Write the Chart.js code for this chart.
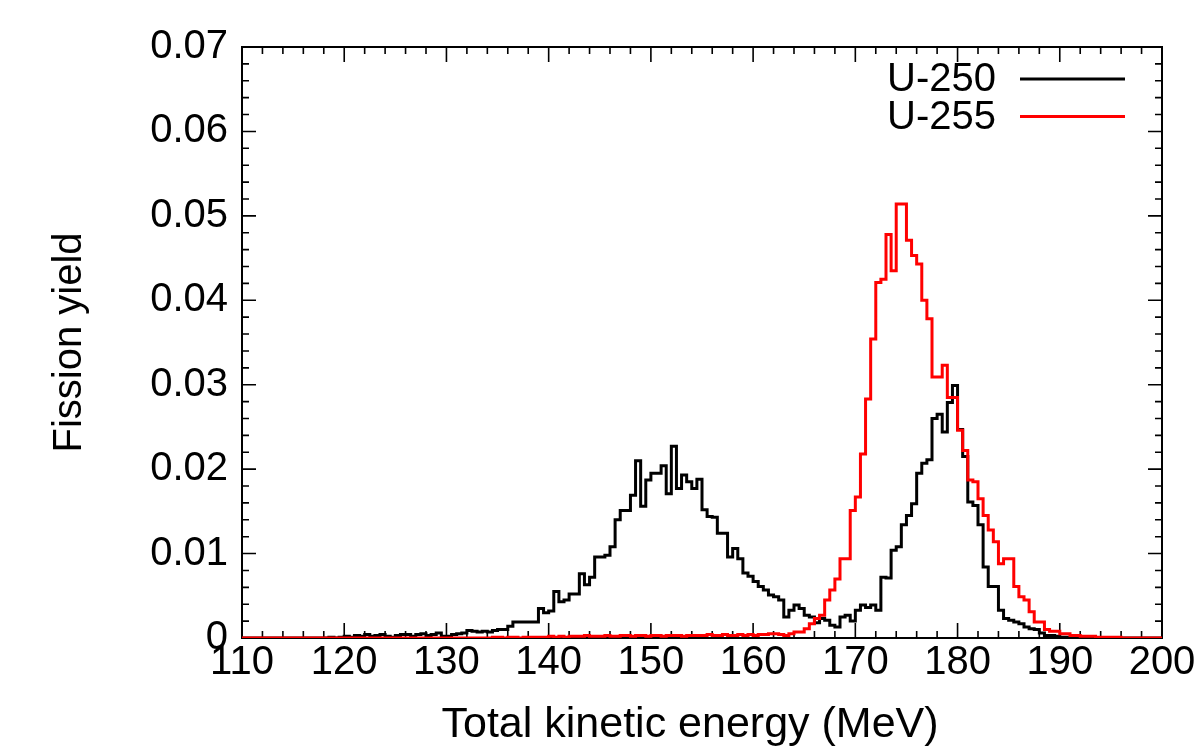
<!DOCTYPE html>
<html><head><meta charset="utf-8">
<script src="https://cdn.jsdelivr.net/npm/chart.js@4"></script>
<style>html,body{margin:0;padding:0;overflow:hidden;background:#fff}#wrap{position:absolute;left:0;top:0;width:1240px;height:751px}</style>
</head><body><div id="wrap"><canvas id="c" width="1240" height="751"></canvas></div>
<script>
// Histogram bins: left edges start at 110 MeV, 0.5 MeV wide
const binStart = 110;
const binWidth = 0.5;
const seriesNames = ['U-250', 'U-255'];
const seriesColors = ['#000000', '#ff0000'];
const xTickValues = [110, 120, 130, 140, 150, 160, 170, 180, 190, 200];
const yTickValues = [0, 0.01, 0.02, 0.03, 0.04, 0.05, 0.06, 0.07];

// U-250 fission yield per bin (rows of 10 bins = 5 MeV)
const u250 = [
  0,0,0,0,0,0,0,0,0,0,                                              // 110
  0,0,0,0,0,0,0,0.0001,0,0.0001,                                    // 115
  0.0002,0.0001,0.0003,0.0002,0.0004,0.0002,0.0003,0.0004,0.0002,0.0001, // 120
  0.0003,0.0004,0.0004,0.0002,0.0004,0.0005,0.0003,0.0004,0.0006,0.0002, // 125
  0.0002,0.0004,0.0005,0.0006,0.0009,0.0008,0.0007,0.0008,0.0007,0.0009, // 130
  0.0010,0.0010,0.0014,0.0019,0.0019,0.0019,0.0019,0.0019,0.0035,0.0030, // 135
  0.0032,0.0055,0.0043,0.0045,0.0052,0.0052,0.0076,0.0063,0.0072,0.0096, // 140
  0.0096,0.0098,0.0108,0.0140,0.0151,0.0151,0.0169,0.0210,0.0156,0.0187, // 145
  0.0195,0.0195,0.0204,0.0171,0.0227,0.0177,0.0193,0.0185,0.0177,0.0188, // 150
  0.0152,0.0144,0.0143,0.0124,0.0124,0.0096,0.0106,0.0094,0.0077,0.0073, // 155
  0.0067,0.0061,0.0057,0.0051,0.0049,0.0045,0.0025,0.0033,0.0039,0.0035, // 160
  0.0027,0.0025,0.0018,0.0023,0.0021,0.0015,0.0013,0.0025,0.0027,0.0020, // 165
  0.0033,0.0039,0.0036,0.0039,0.0033,0.0072,0.0071,0.0104,0.0108,0.0134, // 170
  0.0145,0.0159,0.0195,0.0207,0.0211,0.0260,0.0265,0.0244,0.0279,0.0299, // 175
  0.0247,0.0215,0.0161,0.0157,0.0134,0.0084,0.0061,0.0061,0.0033,0.0023, // 180
  0.0021,0.0019,0.0017,0.0013,0.0011,0.0010,0.0006,0.0003,0.0003,0.0002, // 185
  0.0001,0.0001,0.0001,0.0001,0,0,0,0,0,0,                          // 190
  0,0,0,0,0,0,0,0,0,0                                               // 195
];

// U-255 fission yield per bin
const u255 = [
  0,0,0,0,0,0,0,0,0,0,                                              // 110
  0,0,0,0,0,0,0,0,0,0,                                              // 115
  0,0,0,0,0,0,0,0,0,0,                                              // 120
  0,0,0,0,0,0,0,0,0,0,                                              // 125
  0,0,0,0,0,0,0,0,0,0.0001,                                         // 130
  0.0001,0,0.0001,0.0001,0,0.0001,0.0001,0.0001,0.0001,0.0001,       // 135
  0.0002,0.0001,0.0002,0.0001,0.0002,0.0002,0.0002,0.0003,0.0002,0.0002, // 140
  0.0002,0.0003,0.0002,0.0002,0.0003,0.0003,0.0002,0.0003,0.0003,0.0002, // 145
  0.0003,0.0003,0.0002,0.0003,0.0003,0.0003,0.0002,0.0003,0.0003,0.0003, // 150
  0.0003,0.0004,0.0003,0.0003,0.0004,0.0003,0.0003,0.0004,0.0003,0.0004, // 155
  0.0003,0.0004,0.0004,0.0005,0.0005,0.0004,0.0003,0.0005,0.0007,0.0007, // 160
  0.0011,0.0017,0.0023,0.0027,0.0045,0.0057,0.0070,0.0094,0.0094,0.0151, // 165
  0.0167,0.0218,0.0283,0.0354,0.0421,0.0425,0.0478,0.0435,0.0514,0.0514, // 170
  0.0471,0.0453,0.0443,0.0400,0.0378,0.0309,0.0309,0.0323,0.0285,0.0285, // 175
  0.0246,0.0222,0.0187,0.0185,0.0165,0.0145,0.0128,0.0114,0.0088,0.0094, // 180
  0.0094,0.0061,0.0049,0.0045,0.0031,0.0019,0.0019,0.0010,0.0008,0.0008, // 185
  0.0005,0.0005,0.0003,0.0003,0.0002,0.0002,0.0002,0.0001,0.0001,0.0001, // 190
  0.0001,0.0001,0,0,0,0,0,0,0,0                                      // 195
];

const FONT = "'Liberation Sans', Arial, Helvetica, sans-serif";

function toSteps(vals) {
  const pts = vals.map((v, i) => ({ x: binStart + binWidth * i, y: v }));
  pts.push({ x: binStart + binWidth * vals.length, y: vals[vals.length - 1] });
  return pts;
}

const framePlugin = {
  id: 'frame',
  beforeDatasetsDraw(chart) {
    const { ctx, chartArea, scales } = chart;
    const { left, right, top, bottom } = chartArea;
    const xs = scales.x, ys = scales.y;
    ctx.save();
    ctx.strokeStyle = '#000';
    ctx.lineWidth = 2;
    ctx.strokeRect(left, top, right - left, bottom - top);
    ctx.lineWidth = 1.6;
    ctx.beginPath();
    const xMin = xTickValues[0], xMax = xTickValues[xTickValues.length - 1];
    const nx = Math.round((xMax - xMin) / 2);
    for (let i = 0; i <= nx; i++) {
      const px = xs.getPixelForValue(xMin + 2 * i);
      const len = (i % 5 === 0) ? 15 : 7;
      ctx.moveTo(px, bottom); ctx.lineTo(px, bottom - len);
      ctx.moveTo(px, top); ctx.lineTo(px, top + len);
    }
    const yMax = yTickValues[yTickValues.length - 1];
    const ny = Math.round(yMax / 0.002);
    for (let i = 0; i <= ny; i++) {
      const py = ys.getPixelForValue(0.002 * i);
      const len = (i % 5 === 0) ? 14 : 7;
      ctx.moveTo(left, py); ctx.lineTo(left + len, py);
      ctx.moveTo(right, py); ctx.lineTo(right - len, py);
    }
    ctx.stroke();
    ctx.restore();
  }
};

const legendPlugin = {
  id: 'gpLegend',
  afterDraw(chart) {
    const { ctx } = chart;
    ctx.save();
    ctx.font = '40px ' + FONT;
    ctx.textAlign = 'right';
    ctx.textBaseline = 'middle';
    chart.data.datasets.forEach((ds, i) => {
      const y = 79 + i * 37.5;
      ctx.fillStyle = '#000';
      ctx.fillText(ds.label, 996, y + 1);
      ctx.strokeStyle = ds.borderColor;
      ctx.lineWidth = 3;
      ctx.beginPath();
      ctx.moveTo(1020, y); ctx.lineTo(1125, y);
      ctx.stroke();
    });
    ctx.restore();
  }
};

new Chart(document.getElementById('c'), {
  type: 'line',
  data: {
    datasets: [
      { label: seriesNames[0], data: toSteps(u250), borderColor: seriesColors[0], borderWidth: 3, stepped: true, pointRadius: 0, fill: false, order: 1 },
      { label: seriesNames[1], data: toSteps(u255), borderColor: seriesColors[1], borderWidth: 3, stepped: true, pointRadius: 0, fill: false, order: 0 }
    ]
  },
  options: {
    responsive: false,
    animation: false,
    devicePixelRatio: 1,
    layout: { padding: { left: 0, right: 78, top: 47, bottom: 0 } },
    plugins: { legend: { display: false }, tooltip: { enabled: false } },
    scales: {
      x: {
        type: 'linear', min: 110, max: 200,
        afterBuildTicks: s => { s.ticks = xTickValues.map(v => ({ value: v })); },
        ticks: { color: '#000', font: { family: FONT, size: 40 }, padding: 1, maxRotation: 0, autoSkip: false },
        grid: { display: false, drawTicks: false },
        border: { display: false },
        title: { display: true, text: 'Total kinetic energy (MeV)  ', color: '#000', font: { family: FONT, size: 43 }, padding: { top: 0, bottom: 0 } },
        afterFit: s => { s.height = 113; }
      },
      y: {
        min: 0, max: 0.07,
        afterBuildTicks: s => { s.ticks = yTickValues.map(v => ({ value: v })); },
        ticks: { color: '#000', font: { family: FONT, size: 40 }, padding: 14, callback: v => (v === 0 ? '0' : v.toFixed(2)) },
        grid: { display: false, drawTicks: false },
        border: { display: false },
        title: { display: true, text: 'Fission yield', color: '#000', font: { family: FONT, size: 40 }, padding: { top: 46, bottom: 0 } },
        afterFit: s => { s.width = 242; }
      }
    }
  },
  plugins: [framePlugin, legendPlugin]
});
</script>
</body></html>
